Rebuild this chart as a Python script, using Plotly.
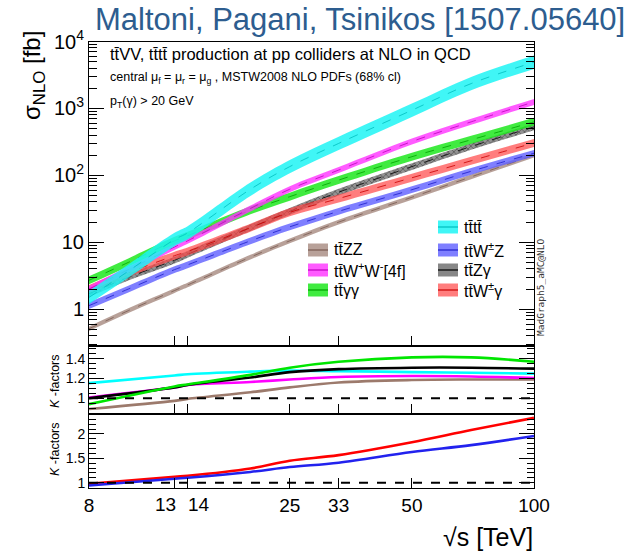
import math
import plotly.graph_objects as go

W, H = 636, 551

# ---------------- data ----------------
energies = [8, 10, 13, 14, 20, 25, 33, 50, 70, 100]          # sqrt(s) [TeV]

sigma_ttZZ   = [0.51, 0.95, 1.9, 2.3, 6.0, 10.5, 20, 47, 95, 200]
sigma_ttWW   = [2.0, 3.9, 8.5, 10.5, 32, 62, 120, 320, 630, 1250]
sigma_ttAA   = [2.7, 5.0, 10.5, 12.5, 30, 48, 85, 190, 340, 630]
sigma_tttt   = [1.5, 3.7, 11, 13.8, 62, 135, 300, 940, 2350, 4900]
sigma_ttWZ   = [1.13, 2.0, 3.9, 4.6, 10.5, 17, 29, 61, 115, 214]
sigma_ttZA   = [1.7, 3.0, 5.4, 6.6, 16.5, 29, 56, 135, 270, 530]
sigma_ttWA   = [2.0, 3.5, 6.3, 7.3, 16.5, 28, 45, 92, 165, 305]

# half width of the uncertainty bands (in decades)
band_ttZZ, band_ttWW, band_ttAA, band_tttt = 0.035, 0.045, 0.06, 0.10
band_ttWZ, band_ttZA, band_ttWA = 0.05, 0.05, 0.06

k_energies = [8, 13, 14, 20, 25, 33, 50, 70, 100]
k_tttt = [1.153, 1.23, 1.244, 1.27, 1.28, 1.275, 1.265, 1.258, 1.25]
k_ttWW = [1.007, 1.11, 1.135, 1.165, 1.19, 1.215, 1.225, 1.22, 1.205]
k_ttAA = [0.94, 1.12, 1.14, 1.237, 1.31, 1.37, 1.415, 1.415, 1.37]
k_ttZA = [1.0, 1.11, 1.135, 1.21, 1.265, 1.295, 1.31, 1.31, 1.30]
k_ttZZ = [0.89, 0.973, 0.993, 1.06, 1.11, 1.16, 1.185, 1.19, 1.19]
k_ttWA = [0.975, 1.12, 1.14, 1.29, 1.45, 1.565, 1.83, 2.08, 2.33]
k_ttWZ = [0.94, 1.08, 1.10, 1.22, 1.32, 1.41, 1.63, 1.77, 1.96]

x_ticks = [8, 13, 14, 25, 33, 50, 100]
x_tick_labels = ["8", "", "", "25", "33", "50", "100"]
x_close_ticks = [13, 14]          # labelled separately, pushed apart
x_inner_ticks = [13, 14, 25, 33, 50]
y_main_ticks = [1, 10, 100, 1000, 10000]
y_main_labels = ["1", "10", "10<sup>2</sup>", "10<sup>3</sup>", "10<sup>4</sup>"]

TB = "t\u0304"
names = {
    "tttt": "t" + TB + "t" + TB,
    "ttWZ": "t" + TB + "W<sup>±</sup>Z",
    "ttZA": "t" + TB + "Zγ",
    "ttWA": "t" + TB + "W<sup>±</sup>γ",
    "ttZZ": "t" + TB + "ZZ",
    "ttWW": "t" + TB + "W<sup>+</sup>W<sup>-</sup>[4f]",
    "ttAA": "t" + TB + "γγ",
}

style = {  # fill, centre line, k-line colour
    "ttZZ": ("rgba(172,145,135,0.85)", "rgba(120,90,80,0.8)", "#9c7a6c"),
    "ttWZ": ("rgba(95,95,255,0.80)", "rgba(30,30,200,0.8)", "#2222ee"),
    "ttZA": ("rgba(95,95,95,0.75)", "rgba(0,0,0,0.8)", "#000000"),
    "ttWA": ("rgba(255,70,70,0.70)", "rgba(200,0,0,0.8)", "#ff0000"),
    "ttAA": ("rgba(30,232,30,0.85)", "rgba(0,160,0,0.8)", "#00e600"),
    "ttWW": ("rgba(255,50,255,0.80)", "rgba(190,0,190,0.8)", "#ff00ff"),
    "tttt": ("rgba(30,245,245,0.85)", "rgba(0,190,190,0.8)", "#00ffff"),
}

series = {
    "ttZZ": (sigma_ttZZ, band_ttZZ),
    "ttWZ": (sigma_ttWZ, band_ttWZ),
    "ttZA": (sigma_ttZA, band_ttZA),
    "ttWA": (sigma_ttWA, band_ttWA),
    "ttAA": (sigma_ttAA, band_ttAA),
    "ttWW": (sigma_ttWW, band_ttWW),
    "tttt": (sigma_tttt, band_tttt),
}

# ---------------- geometry (pixels) ----------------
X0, X1 = 89, 534
Y_TOP, Y_MAIN, Y_MID, Y_BOT = 41.5, 346, 414, 488

def px(x):
    return x / W

def py(y):
    return 1 - y / H

FONT = "Liberation Sans, Arial, sans-serif"

fig = go.Figure()

# main panel bands
for key, (vals, hw) in series.items():
    fill, line, _ = style[key]
    lo = [v * 10 ** (-hw) for v in vals]
    hi = [v * 10 ** (hw) for v in vals]
    fig.add_trace(go.Scatter(x=energies, y=lo, mode="lines", line=dict(width=0, shape="spline"),
                             xaxis="x", yaxis="y", showlegend=False, hoverinfo="skip"))
    kw = {}
    if key == "ttZA":
        kw["fillpattern"] = dict(shape="x", size=4, solidity=0.35, fgcolor="#1a1a1a",
                                 bgcolor="rgba(120,120,120,0.8)", fillmode="overlay")
    fig.add_trace(go.Scatter(x=energies, y=hi, mode="lines", line=dict(width=0, shape="spline"),
                             fill="tonexty", fillcolor=fill, xaxis="x", yaxis="y",
                             showlegend=False, hoverinfo="skip", **kw))
    fig.add_trace(go.Scatter(x=energies, y=vals, mode="lines",
                             line=dict(width=1, color=line, dash="dash", shape="spline"),
                             xaxis="x", yaxis="y", showlegend=False, name=names[key]))

# K-factor panel 1
for key, vals in [("ttZZ", k_ttZZ), ("ttWW", k_ttWW), ("tttt", k_tttt), ("ttZA", k_ttZA), ("ttAA", k_ttAA)]:
    fig.add_trace(go.Scatter(x=k_energies, y=vals, mode="lines",
                             line=dict(width=2.6, color=style[key][2], shape="spline"),
                             xaxis="x2", yaxis="y2", showlegend=False))
# K-factor panel 2
for key, vals in [("ttWA", k_ttWA), ("ttWZ", k_ttWZ)]:
    fig.add_trace(go.Scatter(x=k_energies, y=vals, mode="lines",
                             line=dict(width=2.6, color=style[key][2], shape="spline"),
                             xaxis="x3", yaxis="y3", showlegend=False))

shapes = []
for yref in ("y2", "y3"):
    shapes.append(dict(type="line", xref="paper", yref=yref,
                       x0=px(X0), x1=px(X1), y0=1, y1=1,
                       line=dict(color="black", width=2, dash="dash")))

# minor tick values
minor_log = [m * 10 ** d for d in range(-1, 4) for m in range(2, 10)]

xdom = [px(X0), px(X1)]
common_x = dict(type="log", range=[math.log10(8), 2], domain=xdom, showline=True, linecolor="black",
                linewidth=1, mirror=True, ticks="inside", ticklen=10, tickcolor="black",
                tickvals=x_inner_ticks, showgrid=False, zeroline=False, automargin=False)

yaxis_common = dict(showline=True, linecolor="black", linewidth=1, mirror="ticks", ticks="inside",
                    tickcolor="black", showgrid=False, zeroline=False, automargin=False)

fig.update_layout(
    width=W, height=H, margin=dict(l=0, r=0, t=0, b=0, pad=0, autoexpand=False),
    paper_bgcolor="white", plot_bgcolor="white",
    font=dict(family=FONT, color="black"),
    showlegend=False,
    xaxis=dict(**common_x, anchor="y", showticklabels=False),
    xaxis2=dict(**common_x, anchor="y2", showticklabels=False, matches="x"),
    xaxis3=dict(type="log", range=[math.log10(8), 2], domain=xdom, showline=True, linecolor="black",
                linewidth=1, mirror=True, ticks="inside", ticklen=10, tickcolor="black",
                tickvals=x_ticks, ticktext=x_tick_labels, anchor="y3", tickangle=0,
                tickfont=dict(size=19, family=FONT), showgrid=False, zeroline=False, matches="x",
                automargin=False),
    yaxis=dict(**yaxis_common, type="log", range=[-0.55, 4.0], domain=[py(Y_MAIN), py(Y_TOP)],
               anchor="x", tickvals=y_main_ticks, ticktext=y_main_labels, ticklen=15,
               tickfont=dict(size=20, family=FONT),
               minor=dict(tickvals=minor_log, ticks="inside", ticklen=8, tickcolor="black")),
    yaxis2=dict(**yaxis_common, range=[0.84, 1.53], domain=[py(Y_MID), py(Y_MAIN)], anchor="x2",
                tickvals=[1, 1.2, 1.4], ticktext=["1", "1.2", "1.4"], ticklen=15,
                tickfont=dict(size=14, family=FONT),
                minor=dict(dtick=0.05, ticks="inside", ticklen=7, tickcolor="black")),
    yaxis3=dict(**yaxis_common, range=[0.89, 2.41], domain=[py(Y_BOT), py(Y_MID)], anchor="x3",
                tickvals=[1, 1.5, 2], ticktext=["1", "1.5", "2"], ticklen=15,
                tickfont=dict(size=14, family=FONT),
                minor=dict(dtick=0.1, ticks="inside", ticklen=7, tickcolor="black")),
)

ann = []
# the two crowded tick labels (13 to the left of its tick, 14 to the right)
for val, anchor, shift in zip(x_close_ticks, ["right", "left"], [3, -2]):
    ann.append(dict(text=str(val), x=math.log10(val), xref="x3", y=py(504), yref="paper",
                    xanchor=anchor, yanchor="middle", xshift=shift, showarrow=False,
                    font=dict(size=19, family=FONT)))
# header title
ann.append(dict(text="Maltoni, Pagani, Tsinikos [1507.05640]", x=px(627), y=py(20), xref="paper", yref="paper",
                xanchor="right", yanchor="middle", showarrow=False,
                font=dict(size=31, color="#2d5d8f", family=FONT)))
# in-plot texts
ann.append(dict(text="t" + TB + "VV, t" + TB + "t" + TB + " production at pp colliders at NLO in QCD",
                x=px(108), y=py(54), xref="paper", yref="paper", xanchor="left", yanchor="middle",
                showarrow=False, font=dict(size=16.5, family=FONT)))
ann.append(dict(text="central μ<sub>f</sub> = μ<sub>r</sub> = μ<sub>g</sub> , MSTW2008 NLO PDFs (68% cl)",
                x=px(108), y=py(78), xref="paper", yref="paper", xanchor="left", yanchor="middle",
                showarrow=False, font=dict(size=12.5, family=FONT)))
ann.append(dict(text="p<sub>T</sub>(γ) > 20 GeV", x=px(108), y=py(102), xref="paper", yref="paper",
                xanchor="left", yanchor="middle", showarrow=False, font=dict(size=12.5, family=FONT)))
# axis titles
ann.append(dict(text="σ<sub>NLO</sub> [fb]", x=px(33), y=py(76), xref="paper", yref="paper",
                xanchor="center", yanchor="middle", textangle=-90, showarrow=False,
                font=dict(size=24, family=FONT)))
ann.append(dict(text="<i>K</i> -factors", x=px(55), y=py(381), xref="paper", yref="paper",
                xanchor="center", yanchor="middle", textangle=-90, showarrow=False,
                font=dict(size=12.5, family=FONT)))
ann.append(dict(text="<i>K</i> -factors", x=px(55), y=py(449), xref="paper", yref="paper",
                xanchor="center", yanchor="middle", textangle=-90, showarrow=False,
                font=dict(size=12.5, family=FONT)))
ann.append(dict(text="√s [TeV]", x=px(535), y=py(537), xref="paper", yref="paper",
                xanchor="right", yanchor="middle", showarrow=False, font=dict(size=25, family=FONT)))
ann.append(dict(text="MadGraph5_aMC@NLO", x=px(540), y=py(287), xref="paper", yref="paper",
                xanchor="center", yanchor="middle", textangle=-90, showarrow=False,
                font=dict(size=9.5, family="DejaVu Sans Mono, monospace", color="#333333")))

# legend (two columns)
legend_entries = [
    ("ttZZ", 308, 250), ("ttWW", 308, 270), ("ttAA", 308, 290),
    ("tttt", 438, 227), ("ttWZ", 438, 250), ("ttZA", 438, 270), ("ttWA", 438, 290),
]
for key, lx, ly in legend_entries:
    fill, line, _ = style[key]
    shapes.append(dict(type="rect", xref="paper", yref="paper", x0=px(lx), x1=px(lx + 20),
                       y0=py(ly + 6.5), y1=py(ly - 6.5), fillcolor=fill, line=dict(width=0),
                       layer="above"))
    shapes.append(dict(type="line", xref="paper", yref="paper", x0=px(lx), x1=px(lx + 20),
                       y0=py(ly), y1=py(ly), line=dict(color=line, width=1.5), layer="above"))
    ann.append(dict(text=names[key], x=px(lx + 24), y=py(ly), xref="paper", yref="paper",
                    xanchor="left", yanchor="middle", showarrow=False, font=dict(size=16, family=FONT)))

fig.update_layout(annotations=ann, shapes=shapes)
fig.write_html("out.html")
